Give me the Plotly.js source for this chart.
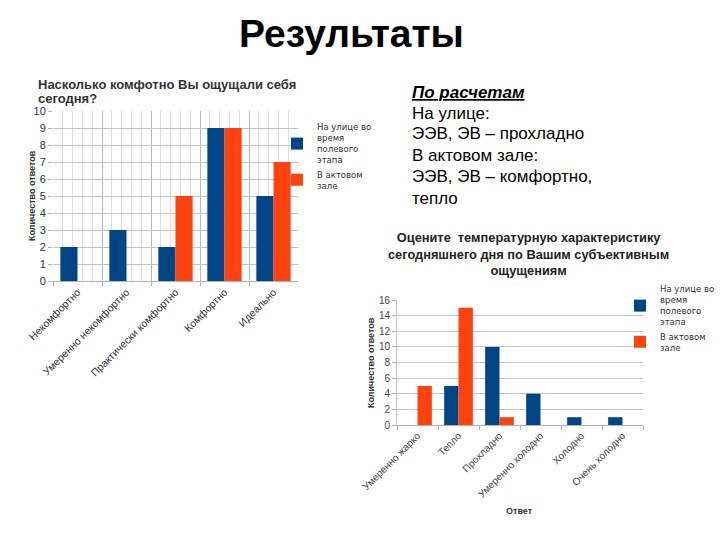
<!DOCTYPE html>
<html>
<head>
<meta charset="utf-8">
<script src="https://cdn.plot.ly/plotly-3.0.1.min.js"></script>
<style>html,body{margin:0;padding:0;background:#fff;}#chart{width:720px;height:540px;}</style>
</head>
<body>
<div id="chart"></div>
<script>
// ---- Data ----
var comfortCategories = ['Некомфортно', 'Умеренно некомфортно', 'Практически комфортно', 'Комфортно', 'Идеально'];
var comfortOutdoor = [2, 3, 2, 9, 5];
var comfortHall = [0, 0, 5, 9, 7];

var tempCategories = ['Умеренно жарко', 'Тепло', 'Прохладно', 'Умеренно холодно', 'Холодно', 'Очень холодно'];
var tempOutdoor = [0, 5, 10, 4, 1, 1];
var tempHall = [5, 15, 1, 0, 0, 0];

var seriesOutdoor = 'На улице во<br>время<br>полевого<br>этапа';
var seriesHall = 'В актовом<br>зале';

var comfortTicks = [0, 1, 2, 3, 4, 5, 6, 7, 8, 9, 10];
var tempTicks = [0, 2, 4, 6, 8, 10, 12, 14, 16];

// ---- Styling ----
var BLUE = '#004586', ORANGE = '#ff420e';
var W = 720, H = 540;
function px(x) { return x / W; }
function py(y) { return 1 - y / H; }

var comfortIndex = comfortCategories.map(function (c, i) { return i; });

var traces = [
  {type: 'bar', x: comfortCategories, y: comfortOutdoor, name: seriesOutdoor, xaxis: 'x', yaxis: 'y',
   marker: {color: BLUE, line: {width: 0}}, legend: 'legend', hoverinfo: 'x+y'},
  {type: 'bar', x: comfortCategories, y: comfortHall, name: seriesHall, xaxis: 'x', yaxis: 'y',
   marker: {color: ORANGE, line: {width: 0}}, legend: 'legend', hoverinfo: 'x+y'},
  {type: 'bar', x: tempCategories, y: tempOutdoor, name: seriesOutdoor, xaxis: 'x2', yaxis: 'y2',
   marker: {color: BLUE, line: {width: 0}}, legend: 'legend2', hoverinfo: 'x+y'},
  {type: 'bar', x: tempCategories, y: tempHall, name: seriesHall, xaxis: 'x2', yaxis: 'y2',
   marker: {color: ORANGE, line: {width: 0}}, legend: 'legend2', hoverinfo: 'x+y'},
  // invisible helper on the overlay axis that carries the fine vertical grid of chart 1
  {type: 'scatter', mode: 'markers', x: comfortIndex, y: comfortOutdoor, xaxis: 'x3', yaxis: 'y',
   marker: {opacity: 0, size: 1}, showlegend: false, hoverinfo: 'skip'}
];

var tickFont = {family: 'Liberation Sans, Arial, sans-serif', size: 10.5, color: '#333'};
var legendFont = {family: 'DejaVu Sans, sans-serif', size: 8.5, color: '#333'};

var layout = {
  width: W, height: H, autosize: false,
  margin: {l: 0, r: 0, t: 0, b: 0},
  paper_bgcolor: '#fff', plot_bgcolor: '#fff',
  barmode: 'group', bargap: 0.3, bargroupgap: 0,
  showlegend: true,
  font: {family: 'Liberation Sans, Arial, sans-serif', color: '#333'},
  xaxis: {
    domain: [px(53), px(298)], anchor: 'y', type: 'category',
    categoryorder: 'array', categoryarray: comfortCategories,
    tickson: 'boundaries', ticks: 'outside', ticklen: 4, tickcolor: '#b3b3b3',
    showgrid: true, gridcolor: '#b8b8b8', gridwidth: 1,
    showline: true, linecolor: '#b3b3b3', linewidth: 1,
    tickangle: -45, tickfont: tickFont, zeroline: false, fixedrange: true
  },
  xaxis3: {
    overlaying: 'x', anchor: 'y', type: 'linear', range: [-0.5, 4.5],
    tick0: -0.5, dtick: 1, showgrid: false,
    minor: {tick0: -0.5, dtick: 0.2, showgrid: true, gridcolor: '#dedede', gridwidth: 1, ticks: ''},
    showticklabels: false, ticks: '', zeroline: false, showline: false, fixedrange: true
  },
  yaxis: {
    domain: [py(281), py(111)], anchor: 'x', range: [0, 10],
    tickvals: comfortTicks, ticks: 'outside', ticklen: 4, tickcolor: '#b3b3b3',
    showgrid: true, gridcolor: '#c4c4c4', zeroline: false, showline: false,
    tickfont: {family: 'Liberation Sans, Arial, sans-serif', size: 11, color: '#333'}, fixedrange: true
  },
  xaxis2: {
    domain: [px(397), px(643)], anchor: 'y2', type: 'category',
    categoryorder: 'array', categoryarray: tempCategories,
    tickson: 'boundaries', ticks: 'outside', ticklen: 4, tickcolor: '#b3b3b3',
    showgrid: false, showline: true, linecolor: '#b3b3b3', linewidth: 1,
    tickangle: -45, tickfont: {family: 'Liberation Sans, Arial, sans-serif', size: 10, color: '#444'},
    zeroline: false, fixedrange: true
  },
  yaxis2: {
    domain: [py(425), py(300)], anchor: 'x2', range: [0, 16],
    tickvals: tempTicks, ticks: 'outside', ticklen: 4, tickcolor: '#b3b3b3',
    showgrid: true, gridcolor: '#c4c4c4', zeroline: false, showline: true, linecolor: '#c4c4c4',
    tickfont: {family: 'Liberation Sans, Arial, sans-serif', size: 10, color: '#444'}, fixedrange: true
  },
  legend: {
    x: px(277), y: py(115), xanchor: 'left', yanchor: 'top',
    bgcolor: 'rgba(0,0,0,0)', borderwidth: 0, font: legendFont,
    tracegroupgap: 0, valign: 'middle'
  },
  legend2: {
    x: px(620), y: py(277), xanchor: 'left', yanchor: 'top',
    bgcolor: 'rgba(0,0,0,0)', borderwidth: 0, font: legendFont,
    tracegroupgap: 0, valign: 'middle'
  },
  annotations: [
    {text: '<b>Результаты</b>', x: px(351), y: py(33), xref: 'paper', yref: 'paper',
     xanchor: 'center', yanchor: 'middle', showarrow: false,
     font: {family: 'Liberation Sans, Arial, sans-serif', size: 39, color: '#000'}},
    {text: '<b>Насколько комфотно Вы ощущали себя</b>', x: px(36), y: py(84), xref: 'paper', yref: 'paper',
     xanchor: 'left', yanchor: 'middle', showarrow: false,
     font: {family: 'Liberation Sans, Arial, sans-serif', size: 13, color: '#333'}},
    {text: '<b>сегодня?</b>', x: px(36), y: py(98.5), xref: 'paper', yref: 'paper',
     xanchor: 'left', yanchor: 'middle', showarrow: false,
     font: {family: 'Liberation Sans, Arial, sans-serif', size: 13, color: '#333'}},
    {text: '<b>Количество ответов</b>', x: px(32), y: py(196), xref: 'paper', yref: 'paper',
     xanchor: 'center', yanchor: 'middle', showarrow: false, textangle: -90,
     font: {family: 'Liberation Sans, Arial, sans-serif', size: 9, color: '#333'}},
    {text: '<b>Оцените  температурную характеристику<br>сегодняшнего дня по Вашим субъективным<br>ощущениям</b>',
     x: px(528), y: py(254), xref: 'paper', yref: 'paper', align: 'center',
     xanchor: 'center', yanchor: 'middle', showarrow: false,
     font: {family: 'Liberation Sans, Arial, sans-serif', size: 12.8, color: '#222'}},
    {text: '<b>Количество ответов</b>', x: px(371), y: py(362), xref: 'paper', yref: 'paper',
     xanchor: 'center', yanchor: 'middle', showarrow: false, textangle: -90,
     font: {family: 'Liberation Sans, Arial, sans-serif', size: 9, color: '#333'}},
    {text: '<b>Ответ</b>', x: px(519), y: py(511), xref: 'paper', yref: 'paper',
     xanchor: 'center', yanchor: 'middle', showarrow: false,
     font: {family: 'Liberation Sans, Arial, sans-serif', size: 9, color: '#333'}}
  ]
};

// Right-hand text block (one annotation per line)
var notes = [
  '<b><i><u>По расчетам</u></i></b>',
  'На улице:',
  'ЭЭВ, ЭВ – прохладно',
  'В актовом зале:',
  'ЭЭВ, ЭВ – комфортно,',
  'тепло'
];
var noteY = [92, 113, 134, 156, 177, 198];
for (var i = 0; i < notes.length; i++) {
  layout.annotations.push({
    text: notes[i], x: px(410), y: py(noteY[i]), xref: 'paper', yref: 'paper',
    xanchor: 'left', yanchor: 'middle', showarrow: false,
    font: {family: 'Liberation Sans, Arial, sans-serif', size: 17, color: '#000'}
  });
}

Plotly.newPlot('chart', traces, layout, {displayModeBar: false, staticPlot: true});
</script>
</body>
</html>
